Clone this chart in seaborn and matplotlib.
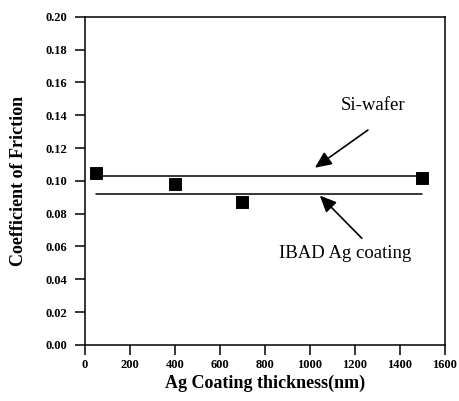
import matplotlib
matplotlib.use("Agg")
import matplotlib.pyplot as plt
import seaborn as sns
import pandas as pd

thickness = [50, 400, 700, 1500]
cof = [0.105, 0.098, 0.087, 0.102]
si_x = [50, 1500]
si_y = [0.103, 0.103]
ibad_x = [50, 1500]
ibad_y = [0.092, 0.092]
xticks = [0, 200, 400, 600, 800, 1000, 1200, 1400, 1600]
yticks = [0.00, 0.02, 0.04, 0.06, 0.08, 0.10, 0.12, 0.14, 0.16, 0.18, 0.20]

sns.set_style("ticks")
plt.rcParams['font.family'] = ['Liberation Serif', 'DejaVu Serif']
plt.rcParams['text.color'] = 'black'
plt.rcParams['axes.labelcolor'] = 'black'
plt.rcParams['xtick.color'] = 'black'
plt.rcParams['ytick.color'] = 'black'

fig = plt.figure(figsize=(4.6, 4.01), dpi=100)
ax = fig.add_axes([0.185, 0.140, 0.782, 0.818])

sns.lineplot(x=si_x, y=si_y, ax=ax, color='black', linewidth=1.1)
sns.lineplot(x=ibad_x, y=ibad_y, ax=ax, color='black', linewidth=1.1)
sns.scatterplot(x=thickness, y=cof, ax=ax, marker='s', s=68, color='black',
                edgecolor='black', zorder=5)

ax.set_xlim(0, 1600)
ax.set_ylim(0, 0.20)
ax.set_xticks(xticks)
ax.set_yticks(yticks)
ax.set_xticklabels([str(v) for v in xticks], fontweight='bold', fontsize=9)
ax.set_yticklabels([f"{v:.2f}" for v in yticks], fontweight='bold', fontsize=9)
ax.tick_params(axis='y', pad=6)
ax.tick_params(direction='out', length=7, width=1.1, colors='black')
for sp in ax.spines.values():
    sp.set_visible(True)
    sp.set_linewidth(1.1)
    sp.set_color('black')

ax.set_xlabel("Ag Coating thickness(nm)", fontweight='bold', fontsize=13,
              labelpad=2, color='black')
ax.set_ylabel("Coefficient of Friction", fontweight='bold', fontsize=13,
              labelpad=13, color='black')

arrow = dict(arrowstyle='-|>,head_length=1.0,head_width=0.45',
             color='black', lw=1.2, shrinkA=0, shrinkB=0)
ax.text(1280, 0.146, "Si-wafer", ha='center', va='center', fontsize=13.5, color='black')
ax.annotate("", xy=(1022, 0.108), xytext=(1258, 0.131), arrowprops=arrow)
ax.text(1156, 0.056, "IBAD Ag coating", ha='center', va='center', fontsize=13.5, color='black')
ax.annotate("", xy=(1044, 0.091), xytext=(1231, 0.065), arrowprops=arrow)

fig.savefig("out.png", dpi=100)
